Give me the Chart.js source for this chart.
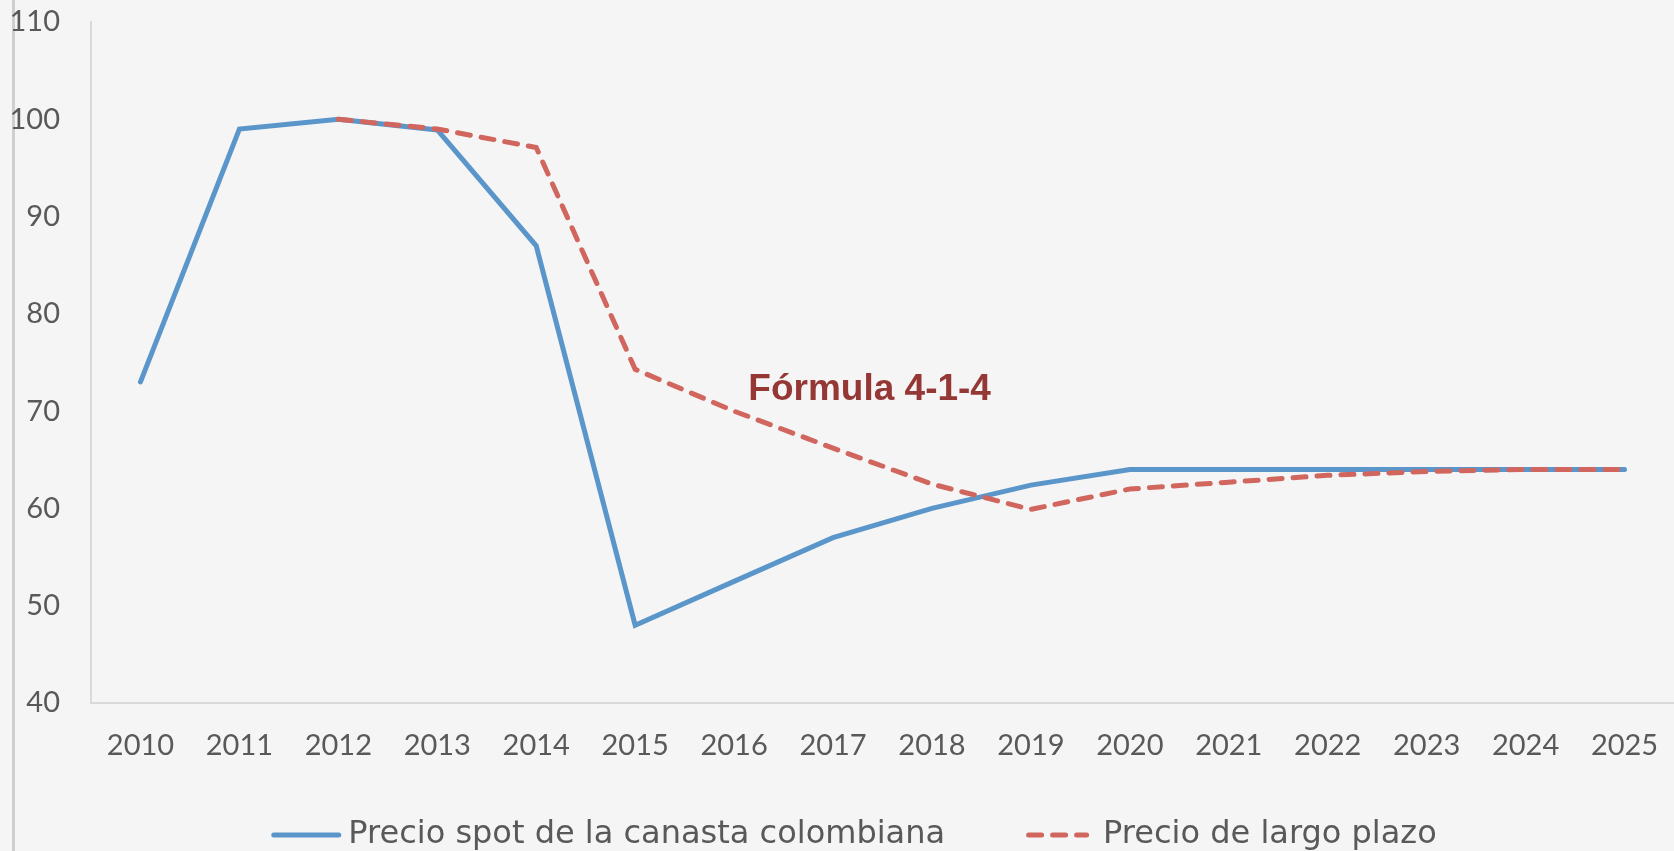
<!DOCTYPE html>
<html>
<head>
<meta charset="utf-8">
<script src="https://cdn.jsdelivr.net/npm/chart.js@4.4.0/dist/chart.umd.min.js"></script>
<style>
  html, body { margin: 0; padding: 0; background: #f5f5f5; overflow: hidden; }
  #wrap { position: relative; width: 1674px; height: 851px; }
  #edge { position: absolute; left: 12px; top: 0; width: 3px; height: 851px; background: #cfcfcf; }
  #chart { position: absolute; left: 0; top: 0; }
</style>
</head>
<body>
<div id="wrap">
  <div id="edge"></div>
  <canvas id="chart" width="1674" height="851"></canvas>
</div>
<script>
var years = ['2010', '2011', '2012', '2013', '2014', '2015', '2016', '2017',
  '2018', '2019', '2020', '2021', '2022', '2023', '2024', '2025'];

var spotPrice = [73.0, 99.0, 100.0, 98.9, 87.0, 48.0, 52.5, 57.0,
  60.0, 62.4, 64.0, 64.0, 64.0, 64.0, 64.0, 64.0];

var longTermPrice = [null, null, 100.0, 99.0, 97.1, 74.3, 70.0, 66.2,
  62.5, 59.9, 62.0, 62.7, 63.4, 63.8, 64.0, 64.0];

var seriesNames = ['Precio spot de la canasta colombiana', 'Precio de largo plazo'];

var yMin = 40, yMax = 110, yStep = 10;

var noteText = 'Fórmula 4-1-4';
var noteAt = {x: 7.37, y: 72.2}; // category index / value

var textColor = '#595959';
var axisColor = '#d9d9d9';

// label text drawn on top of the lines
var notePlugin = {
  id: 'note',
  afterDatasetsDraw: function(chart) {
    var ctx = chart.ctx;
    var x = chart.scales.x.getPixelForValue(noteAt.x);
    var y = chart.scales.y.getPixelForValue(noteAt.y);
    ctx.save();
    ctx.font = 'bold 37px "Liberation Sans", Arial, sans-serif';
    ctx.fillStyle = '#953735';
    ctx.textAlign = 'center';
    ctx.textBaseline = 'middle';
    ctx.fillText(noteText, x, y);
    ctx.restore();
  }
};

// legend with line samples, spaced like the original
var legendPlugin = {
  id: 'lineLegend',
  afterDraw: function(chart) {
    var ctx = chart.ctx;
    var sampleLen = [65, 58];
    var gap = [7, 14];
    var spacing = 81;
    ctx.save();
    ctx.font = '32px "DejaVu Sans", sans-serif';
    var sets = chart.data.datasets;
    var total = spacing;
    sets.forEach(function(ds, i) {
      total += sampleLen[i] + 5 + gap[i] + ctx.measureText(ds.label).width;
    });
    var x = chart.width / 2 + 17 - total / 2;
    var y = 835;
    sets.forEach(function(ds, i) {
      ctx.strokeStyle = ds.borderColor;
      ctx.lineWidth = ds.borderWidth;
      ctx.lineCap = 'round';
      ctx.setLineDash(ds.borderDash || []);
      ctx.beginPath();
      ctx.moveTo(x + 2.5, y);
      ctx.lineTo(x + 2.5 + sampleLen[i], y);
      ctx.stroke();
      ctx.setLineDash([]);
      x += sampleLen[i] + 5 + gap[i];
      ctx.fillStyle = textColor;
      ctx.textAlign = 'left';
      ctx.textBaseline = 'middle';
      ctx.fillText(ds.label, x, y);
      x += ctx.measureText(ds.label).width + spacing;
    });
    ctx.restore();
  }
};

var ctx = document.getElementById('chart').getContext('2d');

var chart = new Chart(ctx, {
  type: 'line',
  data: {
    labels: years,
    datasets: [{
      label: seriesNames[0],
      data: spotPrice,
      borderColor: '#5b96cb',
      backgroundColor: '#5b96cb',
      borderWidth: 5,
      borderCapStyle: 'round',
      pointRadius: 0,
      tension: 0,
      order: 2
    }, {
      label: seriesNames[1],
      data: longTermPrice,
      borderColor: '#d0665e',
      backgroundColor: '#d0665e',
      borderWidth: 5,
      borderDash: [13, 11],
      borderCapStyle: 'round',
      pointRadius: 0,
      tension: 0,
      order: 1
    }]
  },
  options: {
    responsive: false,
    animation: false,
    layout: {padding: {top: 22, right: 0, bottom: 59, left: 0}},
    plugins: {
      legend: {display: false},
      tooltip: {enabled: false}
    },
    scales: {
      x: {
        offset: true,
        grid: {display: false, drawTicks: false},
        border: {display: true, color: axisColor, width: 2},
        ticks: {color: textColor, font: {family: 'Lato', size: 29}, padding: 25, maxRotation: 0, autoSkip: false},
        afterFit: function(scale) {
          scale.height = 89;
          scale.paddingLeft = 0;
          scale.paddingRight = 0;
        }
      },
      y: {
        min: yMin,
        max: yMax,
        grid: {display: false, drawTicks: false},
        border: {display: true, color: axisColor, width: 2},
        ticks: {stepSize: yStep, color: textColor, font: {family: 'Lato', size: 29}, padding: 31},
        afterFit: function(scale) {
          scale.width = 91;
          scale.paddingTop = 0;
          scale.paddingBottom = 0;
        }
      }
    }
  },
  plugins: [notePlugin, legendPlugin]
});
</script>
</body>
</html>
